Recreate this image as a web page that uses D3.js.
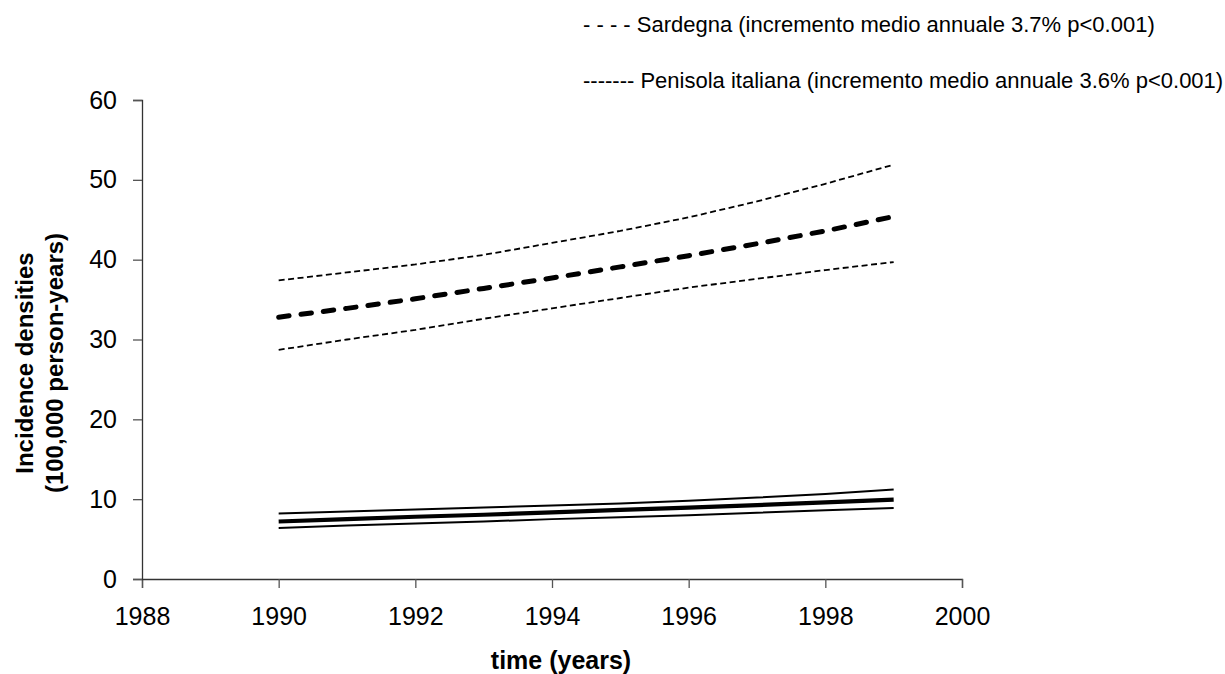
<!DOCTYPE html>
<html>
<head>
<meta charset="utf-8">
<script src="https://cdn.jsdelivr.net/npm/d3@7"></script>
<style>
  body { margin: 0; background: #fff; }
  svg text { font-family: "Liberation Sans", Arial, sans-serif; fill: #000; }
</style>
</head>
<body>
<div id="contents"></div>
<script>
// years of observation
const years = [1990, 1991, 1992, 1993, 1994, 1995, 1996, 1997, 1998, 1999];

// Sardegna: fitted incidence and confidence band
const sardegna      = [32.8, 33.9, 35.1, 36.4, 37.7, 39.1, 40.5, 42.0, 43.6, 45.4];
const sardegnaUpper = [37.4, 38.4, 39.4, 40.6, 42.1, 43.6, 45.3, 47.3, 49.5, 51.9];
const sardegnaLower = [28.7, 30.0, 31.2, 32.6, 33.9, 35.2, 36.5, 37.6, 38.7, 39.7];

// Penisola italiana: fitted incidence and confidence band
const penisola      = [7.2, 7.5, 7.8, 8.05, 8.35, 8.65, 8.95, 9.25, 9.6, 9.95];
const penisolaUpper = [8.2, 8.45, 8.7, 8.95, 9.2, 9.45, 9.8, 10.2, 10.65, 11.2];
const penisolaLower = [6.4, 6.7, 6.95, 7.2, 7.5, 7.75, 8.0, 8.3, 8.6, 8.9];

const xTicks = [1988, 1990, 1992, 1994, 1996, 1998, 2000];
const yTicks = [0, 10, 20, 30, 40, 50, 60];

const legendLabels = [
  "- - - - Sardegna (incremento medio annuale 3.7% p<0.001)",
  "------- Penisola italiana (incremento medio annuale 3.6% p<0.001)"
];

const W = 1225, H = 674;
const margin = {top: 100, right: 263, bottom: 95, left: 142},
    width = W - margin.left - margin.right,
    height = H - margin.top - margin.bottom;

const svg = d3.select("#contents").append("svg")
    .attr("width", W)
    .attr("height", H);

const g = svg.append("g")
    .attr("transform", "translate(" + margin.left + "," + margin.top + ")");

const x = d3.scaleLinear().domain([1988, 2000]).range([0, width]);
const y = d3.scaleLinear().domain([0, 60]).range([height, 0]);

// axes
const xAxis = d3.axisBottom(x).tickValues(xTicks).tickFormat(d3.format("d"))
    .tickSizeInner(9).tickSizeOuter(9).tickPadding(19);
const yAxis = d3.axisLeft(y).tickValues(yTicks)
    .tickSizeInner(9).tickSizeOuter(9).tickPadding(16);

const gx = g.append("g")
    .attr("class", "x axis")
    .attr("transform", "translate(0," + height + ")")
    .call(xAxis);
const gy = g.append("g")
    .attr("class", "y axis")
    .call(yAxis);

[gx, gy].forEach(a => {
  a.select(".domain").attr("stroke", "#333").attr("stroke-width", 1.3);
  a.selectAll(".tick line").attr("stroke", "#555").attr("stroke-width", 1.3);
  a.selectAll(".tick text").style("font-size", "25px").attr("fill", "#000");
});

// lines
const line = d3.line()
    .x((d, i) => x(years[i]))
    .y(d => y(d));

const series = [
  {values: sardegnaUpper, width: 1.8, dash: "6,3.5", cap: "butt"},
  {values: sardegnaLower, width: 1.8, dash: "6,3.5", cap: "butt"},
  {values: sardegna,      width: 5,   dash: "10.5,12", cap: "round"},
  {values: penisolaUpper, width: 2,   dash: null, cap: "butt"},
  {values: penisolaLower, width: 2,   dash: null, cap: "butt"},
  {values: penisola,      width: 4.2, dash: null, cap: "butt"}
];

g.selectAll("path.series")
  .data(series)
  .enter().append("path")
    .attr("class", "series")
    .attr("fill", "none")
    .attr("stroke", "#000")
    .attr("stroke-width", d => d.width)
    .attr("stroke-linecap", d => d.cap)
    .attr("stroke-dasharray", d => d.dash)
    .attr("d", d => line(d.values));

// axis titles
svg.append("text")
    .attr("x", 561)
    .attr("y", 660)
    .attr("text-anchor", "middle")
    .attr("dominant-baseline", "central")
    .style("font-size", "25px")
    .style("font-weight", "bold")
    .text("time (years)");

const yTitle = svg.append("text")
    .attr("transform", "translate(40,363) rotate(-90)")
    .attr("text-anchor", "middle")
    .style("font-size", "24px")
    .style("font-weight", "bold");
yTitle.append("tspan").attr("x", 0).attr("dy", "-0.3em").text("Incidence densities");
yTitle.append("tspan").attr("x", 0).attr("dy", "1.25em").text("(100,000 person-years)");

// legend text
svg.selectAll("text.legend")
  .data(legendLabels)
  .enter().append("text")
    .attr("class", "legend")
    .attr("x", 583)
    .attr("y", (d, i) => 24 + i * 56)
    .attr("dominant-baseline", "central")
    .style("font-size", "22px")
    .text(d => d);
</script>
</body>
</html>
